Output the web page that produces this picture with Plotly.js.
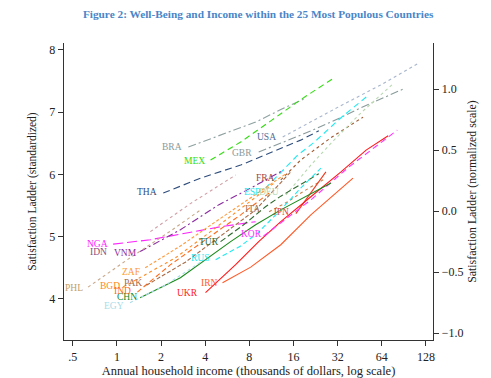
<!DOCTYPE html>
<html>
<head>
<meta charset="utf-8">
<script src="https://cdn.plot.ly/plotly-3.0.1.min.js"></script>
<style>html,body{margin:0;padding:0;background:#fff;}#chart{width:491px;height:378px;}</style>
</head>
<body>
<div id="chart"></div>
<script>
// income (thousands of dollars) and satisfaction ladder
const BRA_x = [3.07, 5.09, 8.83, 13.1, 18.8];            const BRA_y = [6.44, 6.63, 6.84, 7.04, 7.21];
const MEX_x = [4.35, 6.98, 11.2, 17.9, 30.2];            const MEX_y = [6.23, 6.52, 6.86, 7.20, 7.55];
const USA_x = [13.5, 17.9, 32.2, 63.3, 115];             const USA_y = [6.60, 6.76, 7.08, 7.44, 7.79];
const GBR_x = [9.26, 17.9, 28.8, 46.2, 89.5];            const GBR_y = [6.36, 6.63, 6.84, 7.07, 7.37];
const THA_x = [2.07, 3.72, 6.98, 11.2, 17.9, 23.8];      const THA_y = [5.70, 5.94, 6.15, 6.35, 6.55, 6.70];
const FRA_x = [13.1, 17.9, 28.8, 47.7];                  const FRA_y = [5.91, 6.23, 6.59, 6.92];
const DEU_x = [14.2, 21.0, 30.2, 46.2, 77.7];            const DEU_y = [5.67, 6.15, 6.55, 6.99, 7.47];
const ESP_x = [10.3, 17.1, 22.0, 33.7, 52.4];            const ESP_y = [5.78, 6.31, 6.51, 6.91, 7.28];
const ITA_x = [10.9, 14.6, 18.5, 26.6];                  const ITA_y = [5.40, 5.56, 5.72, 5.94];
const JPN_x = [16.6, 19.4, 22.7, 26.6];                  const JPN_y = [5.37, 5.59, 5.80, 6.04];
const UKR_x = [4.02, 6.45, 9.26, 13.1, 21.0, 33.7, 50.0, 70.7]; const UKR_y = [4.10, 4.55, 4.92, 5.24, 5.64, 6.04, 6.39, 6.62];
const KOR_x = [10.0, 13.1, 21.0, 38.2, 66.4, 81.5];      const KOR_y = [5.01, 5.22, 5.59, 6.12, 6.55, 6.71];
const NGA_x = [0.943, 1.69, 2.71, 5.09, 8.83];           const NGA_y = [4.88, 4.95, 5.04, 5.16, 5.24];
const IDN_x = [1.69, 3.17, 6.45];                        const IDN_y = [5.08, 5.53, 5.99];
const VNM_x = [1.44, 2.71, 4.93, 8.17, 13.7];            const VNM_y = [4.76, 5.11, 5.51, 5.78, 6.07];
const TUR_x = [5.09, 7.31, 10.3, 13.1, 23.8];            const TUR_y = [4.92, 5.19, 5.48, 5.65, 6.01];
const CHN_x = [1.44, 2.71, 5.96, 8.83, 13.1, 28.8];      const CHN_y = [4.02, 4.34, 4.92, 5.19, 5.43, 5.86];
const RUS_x = [4.71, 6.98, 9.12, 13.1, 17.9, 24.6];      const RUS_y = [4.63, 4.85, 5.06, 5.43, 5.78, 6.10];
const IRN_x = [5.25, 8.17, 13.1, 21.0, 40.7];            const IRN_y = [4.26, 4.51, 4.87, 5.35, 5.94];
const ZAF_x = [1.56, 2.71, 4.71, 8.17, 14.2];            const ZAF_y = [4.50, 4.85, 5.24, 5.62, 6.01];
const BGD_x = [1.10, 2.51, 4.35, 7.55, 12.1];            const BGD_y = [4.19, 4.66, 5.08, 5.51, 5.88];
const IND_x = [1.38, 2.32, 4.02, 6.98, 11.2];            const IND_y = [4.11, 4.55, 4.95, 5.35, 5.72];
const PAK_x = [1.59, 2.93, 5.09, 8.83, 15.3];            const PAK_y = [4.22, 4.59, 5.01, 5.43, 6.04];
const PHL_x = [0.636, 1.23, 2.32, 3.72];                 const PHL_y = [4.19, 4.66, 5.09, 5.43];
const EGY_x = [1.23, 2.14, 3.72];                        const EGY_y = [3.94, 4.22, 4.59];

const xTickVals = [0.5, 1, 2, 4, 8, 16, 32, 64, 128];
const xTickText = ['.5', '1', '2', '4', '8', '16', '32', '64', '128'];
const yTickVals = [4, 5, 6, 7, 8];
const y2TickVals = [-1, -0.5, 0, 0.5, 1];
const y2TickText = ['\u22121.0', '\u22120.5', '0.0', '0.5', '1.0'];

const series = {
  BRA:[BRA_x,BRA_y], MEX:[MEX_x,MEX_y], USA:[USA_x,USA_y], GBR:[GBR_x,GBR_y], THA:[THA_x,THA_y],
  FRA:[FRA_x,FRA_y], DEU:[DEU_x,DEU_y], ESP:[ESP_x,ESP_y], ITA:[ITA_x,ITA_y], JPN:[JPN_x,JPN_y],
  UKR:[UKR_x,UKR_y], KOR:[KOR_x,KOR_y], NGA:[NGA_x,NGA_y], IDN:[IDN_x,IDN_y], VNM:[VNM_x,VNM_y],
  TUR:[TUR_x,TUR_y], CHN:[CHN_x,CHN_y], RUS:[RUS_x,RUS_y], IRN:[IRN_x,IRN_y], ZAF:[ZAF_x,ZAF_y],
  BGD:[BGD_x,BGD_y], IND:[IND_x,IND_y], PAK:[PAK_x,PAK_y], PHL:[PHL_x,PHL_y], EGY:[EGY_x,EGY_y]
};

// styles: line colour, dash, label colour, label offset (px)
const styles = {
  BRA:{c:'#8fa0a0', d:'8px,3px,2px,3px', lc:'#8a9a9a', o:[-16,0]},
  MEX:{c:'#33dd11', d:'6px,4px', lc:'#33dd11', o:[-16,-1]},
  USA:{c:'#a8b6cc', d:'dot', lc:'#4f6d9a', o:[-16,0]},
  GBR:{c:'#8a9a9a', d:'8px,3px,2px,3px', lc:'#8a9a9a', o:[-17,-1]},
  THA:{c:'#2e4d7c', d:'7px,4px', lc:'#2e4d7c', o:[-16,1]},
  FRA:{c:'#a0582e', d:'dot', lc:'#a04545', o:[-15,2]},
  DEU:{c:'#b8d8b0', d:'dot', lc:'#b8d8b0', o:[-17,3]},
  ESP:{c:'#22e8f0', d:'6px,4px', lc:'#22e8f0', o:[-13,-4]},
  ITA:{c:'#c8834a', d:'dot', lc:'#a07050', o:[-17,3]},
  JPN:{c:'#ee3a20', d:'solid', lc:'#e04030', o:[-15,2]},
  UKR:{c:'#ff1a1a', d:'solid', lc:'#ff1a1a', o:[-18,0]},
  KOR:{c:'#ff33ff', d:'6px,4px', lc:'#ff33ff', o:[-12,2]},
  NGA:{c:'#ff22ff', d:'10px,4px', lc:'#ff22ff', o:[-16,0]},
  IDN:{c:'#d0a0a8', d:'dot', lc:'#8b4d7a', o:[-52,-20]},
  VNM:{c:'#8a2aa0', d:'7px,3px,2px,3px', lc:'#8a2aa0', o:[-15,-1]},
  TUR:{c:'#2d6a2d', d:'6px,3px', lc:'#2d6a2d', o:[-12,0]},
  CHN:{c:'#1a8a1a', d:'solid', lc:'#1a8a1a', o:[-13,1]},
  RUS:{c:'#22e8f0', d:'5px,3px', lc:'#22e8f0', o:[-16,2]},
  IRN:{c:'#ff5a28', d:'solid', lc:'#ff5a28', o:[-13,0]},
  ZAF:{c:'#ff9a3c', d:'3px,2px', lc:'#ff9a3c', o:[-14,-4]},
  BGD:{c:'#ff8a20', d:'dot', lc:'#ff8a20', o:[-13,1]},
  IND:{c:'#ff6a1a', d:'5px,3px', lc:'#ff6a1a', o:[-15,1]},
  PAK:{c:'#a86a46', d:'4px,2px', lc:'#a86a46', o:[-13,2]},
  PHL:{c:'#c8a88a', d:'dot', lc:'#bfa06a', o:[-14,-1]},
  EGY:{c:'#a8dce8', d:'dot', lc:'#a8dce8', o:[-16,-3]}
};

const FONT = 'Liberation Serif, Times New Roman, serif';
const traces = [];
const annotations = [];
Object.keys(series).forEach(k => {
  const [xs, ys] = series[k];
  const s = styles[k];
  traces.push({x: xs, y: ys, type: 'scatter', mode: 'lines', name: k,
    line: {color: s.c, dash: s.d, width: 1.1}, hoverinfo: 'skip', showlegend: false});
  annotations.push({x: Math.log10(xs[0]), y: ys[0], xref: 'x', yref: 'y', text: k,
    showarrow: false, xanchor: 'center', yanchor: 'middle', xshift: s.o[0], yshift: s.o[1],
    font: {family: FONT, size: 9.5, color: s.lc}});
});
// invisible trace to carry the right axis
traces.push({x: [1], y: [0], yaxis: 'y2', type: 'scatter', mode: 'markers',
  marker: {opacity: 0, size: 1}, hoverinfo: 'skip', showlegend: false});

const axisCommon = {showline: true, linecolor: '#333', linewidth: 1.3, ticks: 'outside',
  ticklen: 5, tickcolor: '#333', tickwidth: 1, showgrid: false, zeroline: false,
  tickfont: {family: FONT, size: 12, color: '#222'}};

const layout = {
  width: 491, height: 378,
  margin: {l: 64, r: 58, t: 43, b: 38},
  paper_bgcolor: '#fff', plot_bgcolor: '#fff',
  font: {family: FONT, color: '#222'},
  title: {text: '<b>Figure 2: Well-Being and Income within the 25 Most Populous Countries</b>',
    font: {family: FONT, size: 11.3, color: '#4a86c8'}, xref: 'paper', x: 0.526, xanchor: 'center',
    yref: 'container', y: 0.963, yanchor: 'middle'},
  xaxis: Object.assign({}, axisCommon, {type: 'log', range: [-0.3606, 2.155],
    tickvals: xTickVals, ticktext: xTickText,
    title: {text: 'Annual household income (thousands of dollars, log scale)',
      font: {family: FONT, size: 12.5, color: '#222'}, standoff: 2}}),
  yaxis: Object.assign({}, axisCommon, {range: [3.34, 8.11], tickvals: yTickVals,
    title: {text: 'Satisfaction Ladder (standardized)', font: {family: FONT, size: 11.5, color: '#222'}, standoff: 10}}),
  yaxis2: Object.assign({}, axisCommon, {overlaying: 'y', side: 'right', range: [-1.057, 1.377],
    tickvals: y2TickVals, ticktext: y2TickText,
    title: {text: 'Satisfaction Ladder (normalized scale)', font: {family: FONT, size: 11.8, color: '#222'}, standoff: 5}}),
  annotations: annotations
};

Plotly.newPlot('chart', traces, layout, {staticPlot: true, displayModeBar: false});
</script>
</body>
</html>
